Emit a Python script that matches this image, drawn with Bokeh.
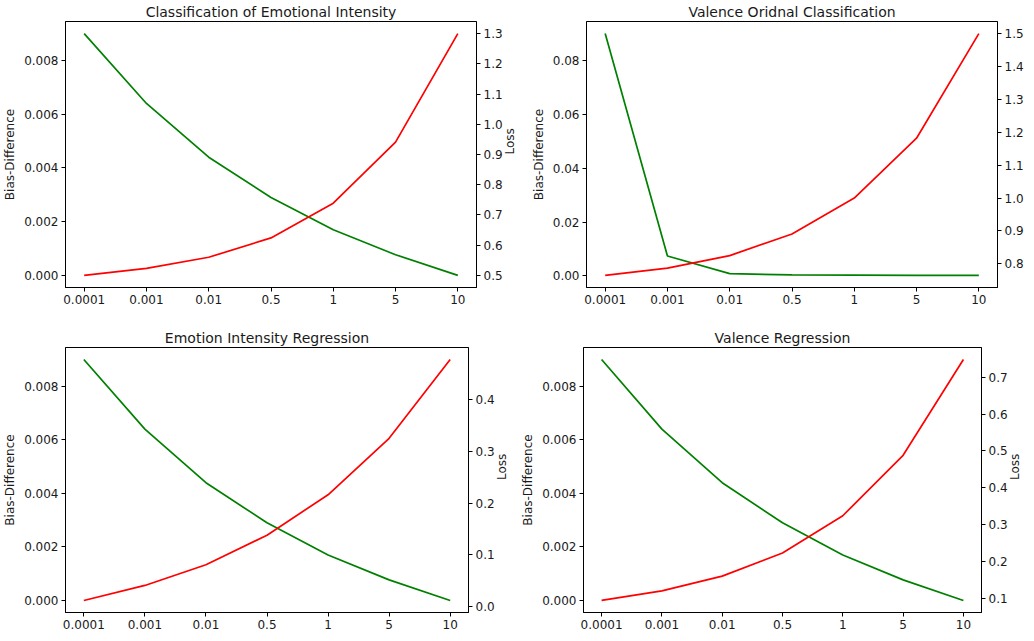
import math
from bokeh.plotting import figure
from bokeh.models import Range1d, LinearAxis, FixedTicker, PrintfTickFormatter
from bokeh.layouts import column, row
from bokeh.embed import file_html
from bokeh.resources import INLINE

# ---------------- data ----------------
x_labels = ["0.0001", "0.001", "0.01", "0.5", "1", "5", "10"]

title_emo_cls = "Classification of Emotional Intensity"
title_val_cls = "Valence Oridnal Classification"
title_emo_reg = "Emotion Intensity Regression"
title_val_reg = "Valence Regression"

bias_emo_cls = [0.0090, 0.0064, 0.0044, 0.0029, 0.0017, 0.00077, 0.0]
loss_emo_cls = [0.500, 0.523, 0.560, 0.624, 0.739, 0.941, 1.300]

bias_val_cls = [0.0900, 0.0074, 0.00085, 0.0004, 0.0003, 0.0002, 0.0002]
loss_val_cls = [0.765, 0.787, 0.825, 0.891, 1.000, 1.182, 1.500]

bias_emo_reg = [0.0090, 0.0064, 0.0044, 0.0029, 0.0017, 0.00077, 0.0]
loss_emo_reg = [0.012, 0.041, 0.081, 0.138, 0.216, 0.325, 0.477]

bias_val_reg = [0.0090, 0.0064, 0.0044, 0.0029, 0.0017, 0.00077, 0.0]
loss_val_reg = [0.094, 0.120, 0.160, 0.223, 0.324, 0.488, 0.748]

bias_ticks_small = [0.0, 0.002, 0.004, 0.006, 0.008]
bias_ticks_large = [0.0, 0.02, 0.04, 0.06, 0.08]
loss_ticks_emo_cls = [0.5, 0.6, 0.7, 0.8, 0.9, 1.0, 1.1, 1.2, 1.3]
loss_ticks_val_cls = [0.8, 0.9, 1.0, 1.1, 1.2, 1.3, 1.4, 1.5]
loss_ticks_emo_reg = [0.0, 0.1, 0.2, 0.3, 0.4]
loss_ticks_val_reg = [0.1, 0.2, 0.3, 0.4, 0.5, 0.6, 0.7]

left_label = "Bias-Difference"
right_label = "Loss"

FONT = "DejaVu Sans"


def padded(vals, frac=0.05):
    lo, hi = min(vals), max(vals)
    d = (hi - lo) * frac
    return lo - d, hi + d


def style_axis(ax):
    ax.axis_line_color = "black"
    ax.major_tick_line_color = "black"
    ax.minor_tick_line_color = None
    ax.major_tick_in = 0
    ax.major_tick_out = 4
    ax.major_label_standoff = 3
    ax.major_label_text_font = FONT
    ax.major_label_text_font_size = "12px"
    ax.major_label_text_color = "#1a1a1a"
    ax.axis_label_text_font = FONT
    ax.axis_label_text_font_size = "12px"
    ax.axis_label_text_font_style = "normal"
    ax.axis_label_text_color = "#1a1a1a"
    ax.axis_label_standoff = 4


def make_panel(title, bias, loss, bias_ticks, bias_fmt, loss_ticks,
               fw, fh, bl, br, bb, show_right_label=True):
    xs = list(range(len(x_labels)))
    x0, x1 = padded(xs)
    y0, y1 = padded(bias)
    r0, r1 = padded(loss)
    p = figure(frame_width=fw, frame_height=fh, output_backend="svg",
               toolbar_location=None, x_range=Range1d(x0, x1),
               y_range=Range1d(y0, y1), title=title)
    p.min_border_left = bl
    p.min_border_right = br
    p.min_border_bottom = bb
    p.min_border_top = 0
    p.background_fill_color = "white"
    p.border_fill_color = "white"
    p.outline_line_color = "black"
    p.outline_line_width = 1
    p.xgrid.visible = False
    p.ygrid.visible = False
    p.title.align = "center"
    p.title.text_font = FONT
    p.title.text_font_size = "14px"
    p.title.text_font_style = "normal"
    p.title.text_color = "#1a1a1a"
    p.title.standoff = 3

    p.extra_y_ranges = {"loss": Range1d(r0, r1)}

    p.xaxis.ticker = FixedTicker(ticks=xs)
    p.xaxis.major_label_overrides = {i: s for i, s in enumerate(x_labels)}
    p.yaxis.ticker = FixedTicker(ticks=bias_ticks)
    p.yaxis.formatter = PrintfTickFormatter(format=bias_fmt)
    p.yaxis.axis_label = left_label

    rax = LinearAxis(y_range_name="loss", ticker=FixedTicker(ticks=loss_ticks),
                     formatter=PrintfTickFormatter(format="%.1f"))
    if show_right_label:
        rax.axis_label = right_label
    if hasattr(rax, "axis_label_orientation"):
        rax.axis_label_orientation = math.pi / 2
    p.add_layout(rax, "right")
    for ax in [p.xaxis[0], p.yaxis[0], rax]:
        style_axis(ax)

    p.line(xs, bias, line_color="green", line_width=1.7)
    p.line(xs, loss, line_color="red", line_width=1.7, y_range_name="loss")
    return p


p1 = make_panel(title_emo_cls, bias_emo_cls, loss_emo_cls, bias_ticks_small, "%.3f",
                loss_ticks_emo_cls, 411, 266, 62, 44, 39)
p2 = make_panel(title_val_cls, bias_val_cls, loss_val_cls, bias_ticks_large, "%.2f",
                loss_ticks_val_cls, 411, 266, 60, 30, 39, show_right_label=False)
p3 = make_panel(title_emo_reg, bias_emo_reg, loss_emo_reg, bias_ticks_small, "%.3f",
                loss_ticks_emo_reg, 403, 265, 62, 44, 21)
p4 = make_panel(title_val_reg, bias_val_reg, loss_val_reg, bias_ticks_small, "%.3f",
                loss_ticks_val_reg, 398, 265, 59, 44, 21)

layout = column(row(p1, p2), row(p3, p4))
open("out.html", "w").write(file_html(layout, INLINE))
